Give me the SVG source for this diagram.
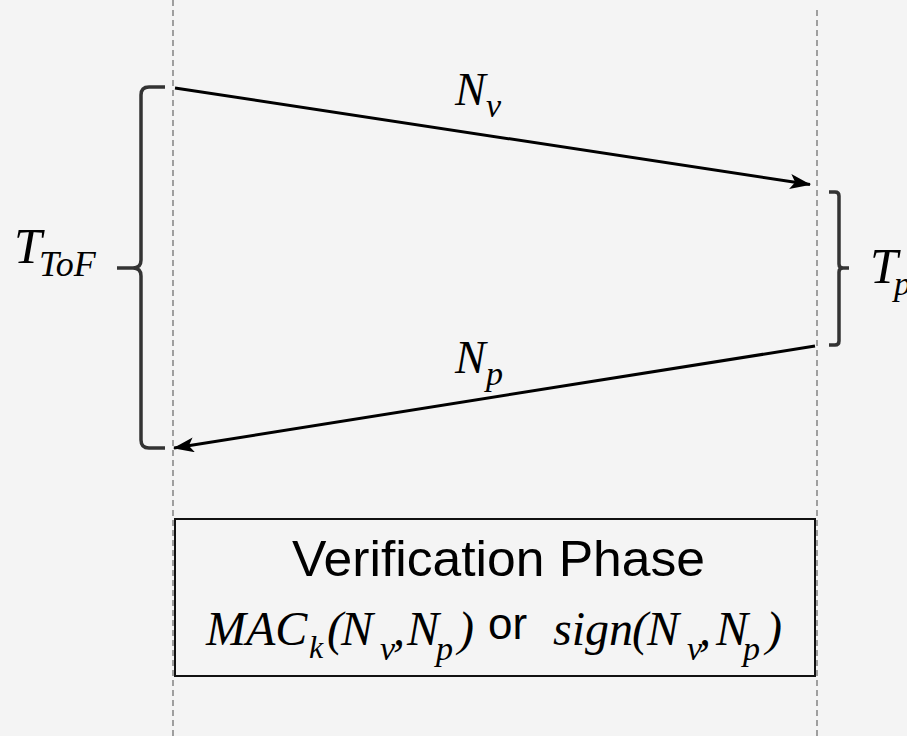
<svg xmlns="http://www.w3.org/2000/svg" width="907" height="736" viewBox="0 0 907 736">
<defs>
<style>
.life{stroke:#666;stroke-width:1.2;stroke-dasharray:6,4;fill:none}
.msg{stroke:#000;stroke-width:3;fill:none}
.brace{stroke:#333;stroke-width:3.5;fill:none;stroke-linecap:butt}
.m{font-family:"Liberation Serif","Times New Roman",serif;font-style:italic;fill:#000}
.s{font-family:"Liberation Sans",Arial,sans-serif;fill:#000}
</style>
<marker id="ah" markerUnits="userSpaceOnUse" markerWidth="24" markerHeight="18" refX="20" refY="7.5" orient="auto">
<path d="M0,0 L21,7.5 L0,15 L5,7.5 z" fill="#000"/>
</marker>
</defs>
<rect width="907" height="736" fill="#f4f4f4"/>
<g id="lifelines">
<line class="life" x1="173" y1="0" x2="173" y2="736"/>
<line class="life" x1="817" y1="10" x2="817" y2="736"/>
</g>
<g id="connectors">
<line class="msg" x1="175" y1="88" x2="810" y2="184.5" marker-end="url(#ah)"/>
<line class="msg" x1="815" y1="346" x2="174" y2="448" marker-end="url(#ah)"/>
</g>
<g id="label-nv">
<text class="m" x="455" y="105" font-size="46">N</text>
<text class="m" x="486" y="117" font-size="34">v</text>
</g>
<g id="label-np">
<text class="m" x="455" y="373" font-size="46">N</text>
<text class="m" x="486" y="385" font-size="34">p</text>
</g>
<g id="brace-tof">
<path class="brace" d="M165,87 L149,87 Q141,87 141,95 L141,260 Q141,268 133,268 L117,268 M133,268 Q141,268 141,276 L141,440 Q141,448 149,448 L165,448"/>
<text class="m" x="14" y="263" font-size="50">T</text>
<text class="m" x="39" y="276" font-size="36">ToF</text>
</g>
<g id="brace-tp">
<path class="brace" d="M829,192 L835,192 Q839,192 839,196 L839,264 Q839,268 843,268 L849,268 M843,268 Q839,268 839,272 L839,341 Q839,345 835,345 L829,345"/>
<text class="m" x="870" y="283" font-size="50">T</text>
<text class="m" x="894" y="295" font-size="34">p</text>
</g>
<g id="verification">
<rect x="175" y="519" width="640" height="157" fill="none" stroke="#111" stroke-width="2"/>
<text class="s" x="292" y="576" font-size="50" textLength="413" lengthAdjust="spacingAndGlyphs">Verification Phase</text>
<text class="m" font-size="48"><tspan x="206" y="645">MAC</tspan><tspan x="309" y="658" font-size="32">k</tspan><tspan x="327" y="645">(</tspan><tspan x="341" y="645">N</tspan><tspan x="380" y="660" font-size="34">v</tspan><tspan x="393" y="645">,</tspan><tspan x="407" y="645">N</tspan><tspan x="436" y="660" font-size="34">p</tspan><tspan x="458" y="645">)</tspan></text>
<text class="s" x="488" y="639" font-size="44">or</text>
<text class="m" font-size="48"><tspan x="553" y="645">sign</tspan><tspan x="632" y="645">(</tspan><tspan x="647" y="645">N</tspan><tspan x="687" y="660" font-size="34">v</tspan><tspan x="699" y="645">,</tspan><tspan x="716" y="645">N</tspan><tspan x="743" y="660" font-size="34">p</tspan><tspan x="766" y="645">)</tspan></text>
</g>
</svg>
